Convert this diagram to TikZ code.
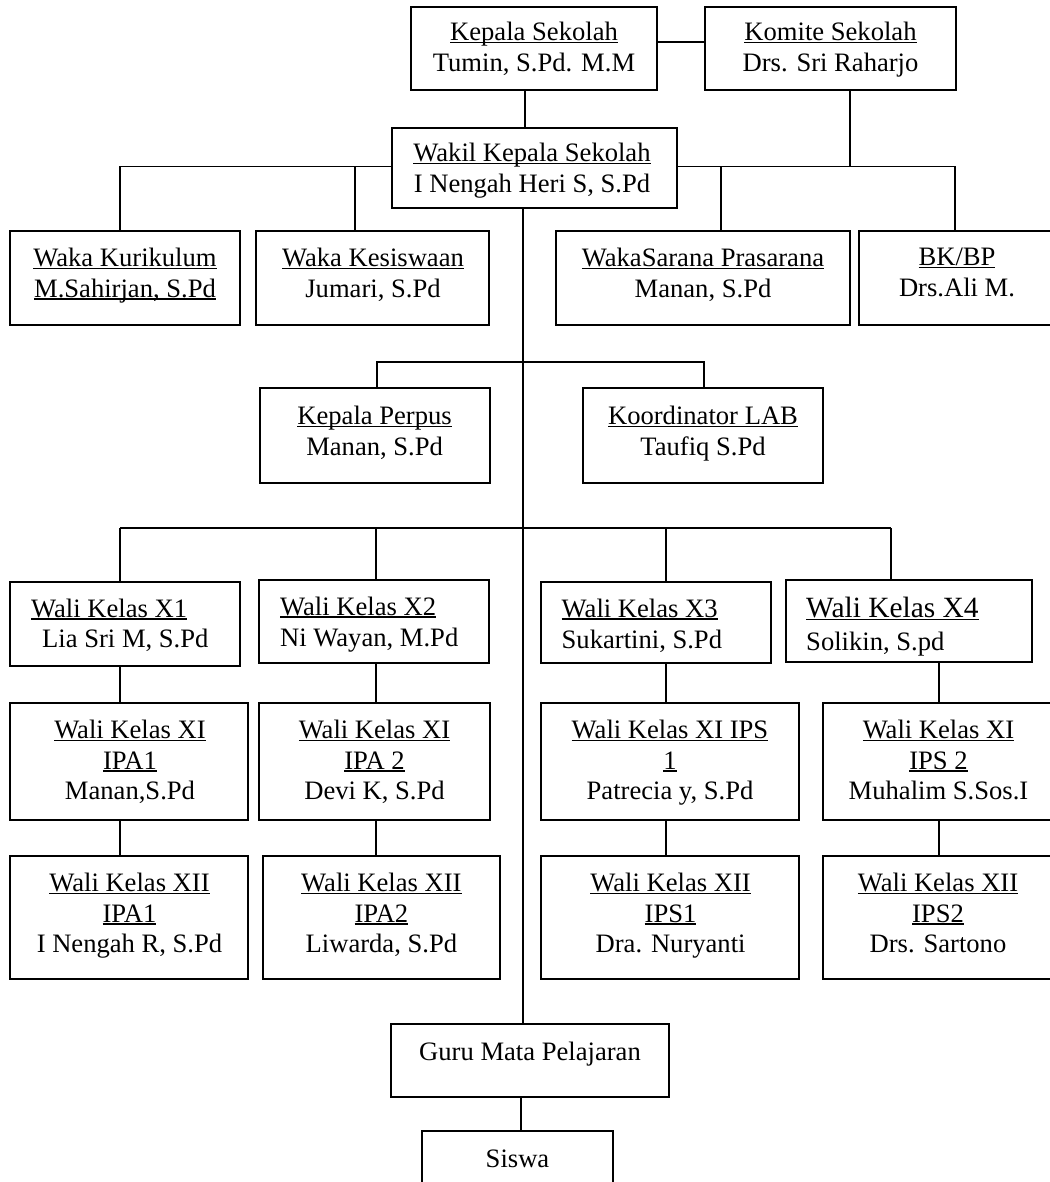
\documentclass[tikz,border=0pt]{standalone}
\usepackage{fontspec}
\setmainfont{Liberation Serif}
\newcommand\ulx[1]{\setbox0\hbox{#1}\rlap{\rule[-2.6pt]{\wd0}{1.3pt}}\box0}
\newcommand\mkbox[5]{\node[bx, minimum width={#4-#2}, minimum height={#5-#3}] (#1) at ({(#2+#4)/2},{(#3+#5)/2}) {};}
\tikzset{
  bx/.style={draw, line width=1.8pt, inner sep=0pt},
  ln/.style={line width=1.5pt},
  tx/.style={inner sep=0pt, font=\fontsize{26.6}{30.5}\selectfont, align=center, anchor=north},
  tl/.style={inner sep=0pt, font=\fontsize{26.6}{30.5}\selectfont, anchor=base west},
  tlb/.style={inner sep=0pt, font=\fontsize{29.4}{33}\selectfont, anchor=base west}
}
\begin{document}
\begin{tikzpicture}[x=1pt,y=-1pt]
\useasboundingbox (0,0) rectangle (1049,1182);
% boxes
\mkbox{kep}{411}{7}{657}{90}
\mkbox{kom}{705}{7}{956}{90}
\mkbox{wak}{392}{128}{677}{208}
\mkbox{kur}{10}{231}{240}{325}
\mkbox{kes}{256}{231}{489}{325}
\mkbox{sar}{556}{231}{850}{325}
\mkbox{bk}{859}{231}{1056}{325}
\mkbox{prp}{260}{388}{490}{483}
\mkbox{lab}{583}{388}{823}{483}
\mkbox{xa}{10}{582}{240}{666}
\mkbox{xb}{259}{580}{489}{663}
\mkbox{xc}{541}{582}{771}{663}
\mkbox{xd}{786}{580}{1032}{662}
\mkbox{xia}{10}{703}{248}{820}
\mkbox{xib}{259}{703}{490}{820}
\mkbox{xic}{541}{703}{799}{820}
\mkbox{xid}{823}{703}{1056}{820}
\mkbox{xiia}{10}{856}{248}{979}
\mkbox{xiib}{263}{856}{500}{979}
\mkbox{xiic}{541}{856}{799}{979}
\mkbox{xiid}{823}{856}{1056}{979}
\mkbox{guru}{391}{1024}{669}{1097}
\mkbox{sis}{422}{1131}{613}{1200}
% texts
\node[tx] (kepT) at (534,22) {\ulx{Kepala Sekolah}\\Tumin, S.Pd. M.M};
\node[tx] (komT) at (830.5,22) {\ulx{Komite Sekolah}\\Drs. Sri Raharjo};
\node[tx] (wakT) at (532,143) {\ulx{Wakil Kepala Sekolah}\\I Nengah Heri S, S.Pd};
\node[tx] (kurT) at (125,248) {\ulx{Waka Kurikulum}\\\ulx{M.Sahirjan, S.Pd}};
\node[tx] (kesT) at (373,248) {\ulx{Waka Kesiswaan}\\Jumari, S.Pd};
\node[tx] (sarT) at (703,248) {\ulx{WakaSarana Prasarana}\\Manan, S.Pd};
\node[tx] (bkT) at (957,248) {\ulx{BK/BP}\\Drs.Ali M.};
\node[tx] (prpT) at (374.6,406) {\ulx{Kepala Perpus}\\Manan, S.Pd};
\node[tx] (labT) at (703,406) {\ulx{Koordinator LAB}\\Taufiq S.Pd};
\node[tl] (xaT1) at (31,617) {\ulx{Wali Kelas X1}};
\node[tl] (xaT2) at (42,647) {Lia Sri M, S.Pd};
\node[tl] (xbT1) at (280,615) {\ulx{Wali Kelas X2}};
\node[tl] (xbT2) at (280,646) {Ni Wayan, M.Pd};
\node[tl] (xcT1) at (561.5,617) {\ulx{Wali Kelas X3}};
\node[tl] (xcT2) at (561.5,648) {Sukartini, S.Pd};
\node[tlb] (xdT1) at (806,617.5) {\ulx{Wali Kelas X4}};
\node[tl] (xdT2) at (806,650) {Solikin, S.pd};
\node[tx] (xiaT) at (130,720) {\ulx{Wali Kelas XI}\\\ulx{IPA1}\\Manan,S.Pd};
\node[tx] (xibT) at (374.5,720) {\ulx{Wali Kelas XI}\\\ulx{IPA 2}\\Devi K, S.Pd};
\node[tx] (xicT) at (670,720) {\ulx{Wali Kelas XI IPS}\\\ulx{1}\\Patrecia y, S.Pd};
\node[tx] (xidT) at (938.5,720) {\ulx{Wali Kelas XI}\\\ulx{IPS 2}\\Muhalim S.Sos.I};
\node[tx] (xiiaT) at (129.5,873) {\ulx{Wali Kelas XII}\\\ulx{IPA1}\\I Nengah R, S.Pd};
\node[tx] (xiibT) at (381.4,873) {\ulx{Wali Kelas XII}\\\ulx{IPA2}\\Liwarda, S.Pd};
\node[tx] (xiicT) at (670.6,873) {\ulx{Wali Kelas XII}\\\ulx{IPS1}\\Dra. Nuryanti};
\node[tx] (xiidT) at (938,873) {\ulx{Wali Kelas XII}\\\ulx{IPS2}\\Drs. Sartono};
\node[tx] (guruT) at (530,1042) {Guru Mata Pelajaran};
\node[tx] (sisT) at (517.5,1150) {Siswa};
% coordinates
\coordinate (vK) at (525,0);
\coordinate (vT) at (523,0);
\coordinate (vS) at (521,0);
\coordinate (vC) at (850,0);
\coordinate (cJ) at (939,0);
\coordinate (bA) at (120,166.5);
\coordinate (bB) at (355,166.5);
\coordinate (bC) at (721,166.5);
\coordinate (bD) at (955,166.5);
\coordinate (uE) at (377,362);
\coordinate (uF) at (704,362);
\coordinate (lA) at (120,528);
\coordinate (lG) at (376,528);
\coordinate (lH) at (666,528);
\coordinate (lI) at (891,528);
% connectors
\draw[ln] ([yshift=6.5pt]kep.east) -- ([yshift=6.5pt]kom.west);
\draw[ln] (kep.south -| vK) -- (wak.north -| vK);
\draw[ln] (wak.west |- bA) -- (bA) -- (bA |- kur.north);
\draw[ln] (bB) -- (bB |- kes.north);
\draw[ln] (wak.east |- bC) -- (bD) -- (bD |- bk.north);
\draw[ln] (bC) -- (bC |- sar.north);
\draw[ln] (kom.south -| vC) -- (vC |- bC);
\draw[ln] (wak.south -| vT) -- (guru.north -| vT);
\draw[ln] (uE |- prp.north) -- (uE) -- (uF) -- (uF |- lab.north);
\draw[ln] (lA) -- (lI);
\draw[ln] (lA) -- (lA |- xa.north);
\draw[ln] (lG) -- (lG |- xb.north);
\draw[ln] (lH) -- (lH |- xc.north);
\draw[ln] (lI) -- (lI |- xd.north);
\draw[ln] (xa.south -| lA) -- (xia.north -| lA);
\draw[ln] (xia.south -| lA) -- (xiia.north -| lA);
\draw[ln] (xb.south -| lG) -- (xib.north -| lG);
\draw[ln] (xib.south -| lG) -- (xiib.north -| lG);
\draw[ln] (xc.south -| lH) -- (xic.north -| lH);
\draw[ln] (xic.south -| lH) -- (xiic.north -| lH);
\draw[ln] (xd.south -| cJ) -- (xid.north -| cJ);
\draw[ln] (xid.south -| cJ) -- (xiid.north -| cJ);
\draw[ln] (guru.south -| vS) -- (sis.north -| vS);
\end{tikzpicture}
\end{document}
